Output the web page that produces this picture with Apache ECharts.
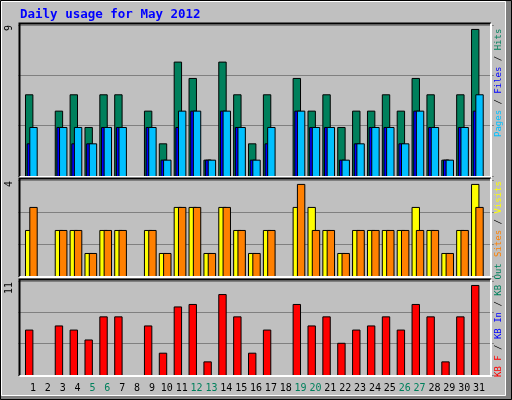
<!DOCTYPE html>
<html><head><meta charset="utf-8">
<script src="https://cdn.jsdelivr.net/npm/echarts@6/dist/echarts.min.js"></script>
<style>html,body{margin:0;padding:0;background:#c0c0c0}#c{width:512px;height:400px}</style>
</head><body><div id="c"></div>
<script>
const days = [1,2,3,4,5,6,7,8,9,10,11,12,13,14,15,16,17,18,19,20,21,22,23,24,25,26,27,28,29,30,31];
const weekendDays = [5,6,12,13,19,20,26,27];
const hits   = [5,0,4,5,3,5,5,0,4,2,7,6,1,7,5,2,5,0,6,4,5,3,4,4,5,4,6,5,1,5,9];
const files  = [3,0,3,3,2,3,3,0,3,1,4,4,1,4,3,1,3,0,4,3,3,1,2,3,3,2,4,3,1,3,5];
const pages  = [2,0,3,2,2,3,3,0,3,1,3,4,1,4,3,1,2,0,4,3,3,1,2,3,3,2,4,3,1,3,4];
const visits = [2,0,2,2,1,2,2,0,2,1,3,3,1,3,2,1,2,0,3,3,2,1,2,2,2,2,3,2,1,2,4];
const sites  = [3,0,2,2,1,2,2,0,2,1,3,3,1,3,2,1,2,0,4,2,2,1,2,2,2,2,2,2,1,2,3];
const kbytes = [5.5,0,6.0,5.5,4.3,7.1,7.1,0,6.0,2.7,8.3,8.6,1.65,9.8,7.1,2.7,5.5,0,8.6,6.0,7.1,3.9,5.5,6.0,7.1,5.5,8.6,7.1,1.65,7.1,10.9];
const yMaxLabels = ['9','4','11'];

const mono = '"DejaVu Sans Mono", monospace';
const C = {hits:'#00805c', files:'#00c0ff', pages:'#0000ff', visits:'#ffff00', sites:'#ff8000', kb:'#ff0000'};
const chart = echarts.init(document.getElementById('c'));
const L = 18.13, R = 512-493.9;
const panels = [{top:25,h:151,max:9.24},{top:180,h:96,max:4.17},{top:281,h:94,max:11.38}];

function bar(api, dx, w, val, color) {
  const d = api.value(0);
  const base = api.coord([d, 0]);
  const top = api.coord([d, val]);
  const s = api.size([1,0])[0]/14.87;
  return {type:'rect', shape:{x:base[0]+dx*s+0.5, y:top[1]+0.5, width:w*s, height:base[1]-top[1]},
    style:{fill:color, stroke:'#000', lineWidth:1}};
}
function mk(vals){ return days.map((d,i)=>[d].concat(vals.map(v=>v[i]))); }

const grids = panels.map(p=>({left:L, right:R, top:p.top, height:p.h, show:false}));
const xAxes = panels.map((p,i)=>({gridIndex:i, type:'value', min:0, max:32, interval:1,
  axisLine:{show:false}, axisTick:{show:false}, splitLine:{show:false},
  axisLabel:{show:i===2, margin:8, fontFamily:mono, fontSize:10,
    formatter:v=>(v<1||v>31)?'':(weekendDays.includes(v)?'{w|'+v+'}':'{n|'+v+'}'),
    rich:{w:{color:'#00805c',fontFamily:mono,fontSize:10}, n:{color:'#000',fontFamily:mono,fontSize:10}}}}));
const yAxes = panels.map((p,i)=>({gridIndex:i, type:'value', min:0, max:p.max, interval:p.max/3,
  axisLine:{show:false}, axisTick:{show:false}, axisLabel:{show:false},
  splitLine:{lineStyle:{color:'#808080', width:1}}}));

const series = [
  {type:'custom', xAxisIndex:0, yAxisIndex:0, data:mk([hits,pages,files]), clip:false,
   renderItem:(params, api)=>{
     if(api.value(1)<=0) return null;
     return {type:'group', children:[
       bar(api,-8,7.4,api.value(1),C.hits),
       bar(api,-6.3,5,api.value(2),C.pages),
       bar(api,-3.7,7.4,api.value(3),C.files)]};
   }},
  {type:'custom', xAxisIndex:1, yAxisIndex:1, data:mk([visits,sites]), clip:false,
   renderItem:(params, api)=>{
     if(api.value(1)<=0) return null;
     return {type:'group', children:[
       bar(api,-8,7.4,api.value(1),C.visits),
       bar(api,-3.7,7.4,api.value(2),C.sites)]};
   }},
  {type:'custom', xAxisIndex:2, yAxisIndex:2, data:mk([kbytes]), clip:false,
   renderItem:(params, api)=>{
     if(api.value(1)<=0) return null;
     return bar(api,-8,7.4,api.value(1),C.kb);
   }}
];

const g = [];
g.push({type:'rect', z:-10, shape:{x:0,y:0,width:512,height:400}, style:{fill:'#c0c0c0'}});
g.push({type:'rect', z:-9, shape:{x:506,y:0,width:6,height:400}, style:{fill:'#808080'}});
g.push({type:'rect', z:-9, shape:{x:0,y:396,width:512,height:4}, style:{fill:'#808080'}});
g.push({type:'rect', z:-8, shape:{x:0.5,y:0.5,width:511,height:399}, style:{fill:'none', stroke:'#000', lineWidth:1}});
g.push({type:'rect', z:-8, shape:{x:1.5,y:1.5,width:504,height:394}, style:{fill:'none', stroke:'#fff', lineWidth:1}});
panels.forEach((p,i)=>{
  const x1=19.5, x2=491, y1=p.top-1.5, y2=p.top+p.h+1;
  g.push({type:'polyline', z:50, shape:{points:[[x1,y2],[x1,y1],[x2,y1]]}, style:{stroke:'#000', lineWidth:2, fill:'none'}});
  g.push({type:'polyline', z:50, shape:{points:[[x1,y2],[x2,y2],[x2,y1]]}, style:{stroke:'#fff', lineWidth:2, fill:'none'}});
  g.push({type:'text', z:50, x:9, y:p.top+(i===0?0:1), rotation:Math.PI/2,
    style:{text:yMaxLabels[i], fill:'#000', font:'10px '+mono, align:'right', verticalAlign:'middle'}});
});
g.push({type:'text', z:50, x:20, y:15, style:{text:'Daily usage for May 2012', fill:'#0000ff', font:'bold 12.5px '+mono, verticalAlign:'middle'}});
function vtext(x, yBottom, parts){
  const f = 9;
  g.push({type:'text', z:50, x:x, y:yBottom, rotation:Math.PI/2,
    style:{text:parts.map(p=>'{'+p[1]+'|'+p[0]+'}').join(''), font:f+'px '+mono, align:'left', verticalAlign:'middle',
      rich:{a:{fill:C.files,fontFamily:mono,fontSize:f},k:{fill:'#000',fontFamily:mono,fontSize:f},b:{fill:'#0000ff',fontFamily:mono,fontSize:f},
            c:{fill:C.hits,fontFamily:mono,fontSize:f},o:{fill:C.sites,fontFamily:mono,fontSize:f},y:{fill:C.visits,fontFamily:mono,fontSize:f},r:{fill:C.kb,fontFamily:mono,fontSize:f}}}});
}
vtext(499, 137, [['Pages','a'],[' / ','k'],['Files','b'],[' / ','k'],['Hits','c']]);
vtext(499, 257, [['Sites','o'],[' / ','k'],['Visits','y']]);
vtext(499, 377, [['KB F','r'],[' / ','k'],['KB In','b'],[' / ','k'],['KB Out','c']]);

chart.setOption({animation:false, backgroundColor:'#c0c0c0', grid:grids, xAxis:xAxes, yAxis:yAxes, series:series, graphic:g});
</script></body></html>
